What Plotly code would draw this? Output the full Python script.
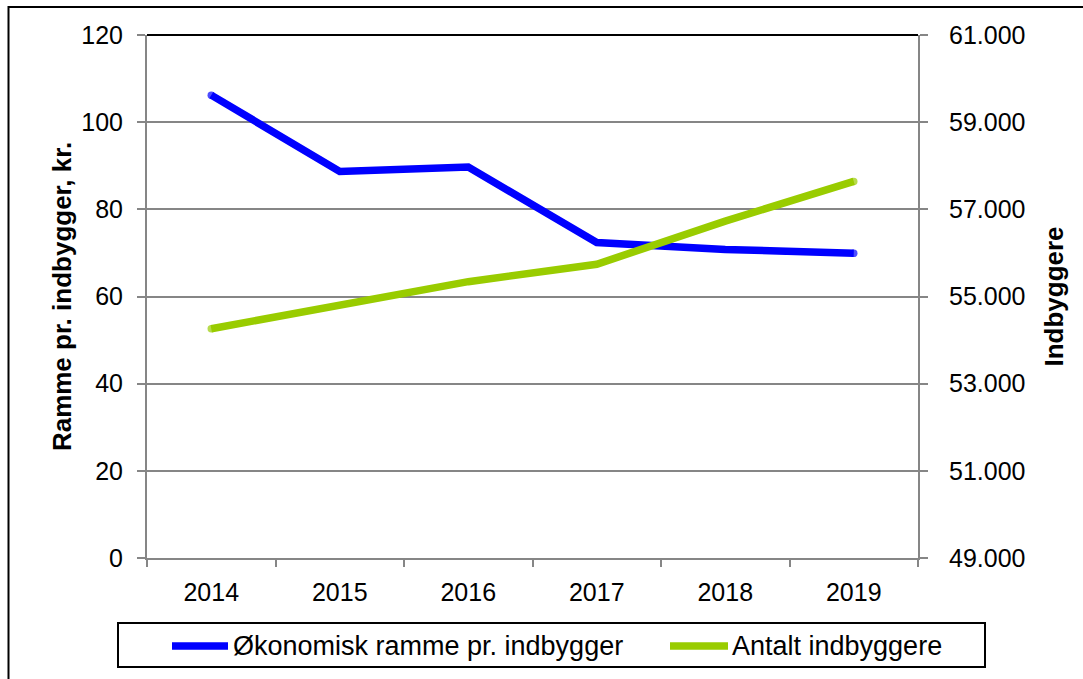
import plotly.graph_objects as go

# Data
years = ["2014", "2015", "2016", "2017", "2018", "2019"]
ramme = [106.2, 88.7, 89.7, 72.4, 70.8, 69.9]
indbyggere = [54260, 54780, 55340, 55740, 56730, 57640]

ramme_name = "Økonomisk ramme pr. indbygger"
indb_name = "Antalt indbyggere"
left_title = "Ramme pr. indbygger, kr."
right_title = "Indbyggere"

left_ticks = [0, 20, 40, 60, 80, 100, 120]
right_ticks = [49000, 51000, 53000, 55000, 57000, 59000, 61000]

# Styling
BLUE = "#0000FF"
GREEN = "#99CC00"
GRID = "#868686"
FONT = "Liberation Sans, Arial, sans-serif"

W, H = 1083, 679
L, R, T, B = 147, 165, 35, 121
PW, PH = W - L - R, H - T - B


def px(xp):
    return (xp - L) / PW


def py(yp):
    return (H - B - yp) / PH


fig = go.Figure()
fig.add_trace(go.Scatter(
    x=years, y=ramme, name=ramme_name, mode="lines+markers",
    line=dict(color=BLUE, width=7.5),
    marker=dict(color=BLUE, size=[7.5, 0, 0, 0, 0, 7.5], line=dict(width=0)),
    yaxis="y", showlegend=False,
))
fig.add_trace(go.Scatter(
    x=years, y=indbyggere, name=indb_name, mode="lines+markers",
    line=dict(color=GREEN, width=7.5),
    marker=dict(color=GREEN, size=[7.5, 0, 0, 0, 0, 7.5], line=dict(width=0)),
    yaxis="y2", showlegend=False,
))

shapes = []
# outer frame
shapes.append(dict(type="rect", xref="paper", yref="paper",
                   x0=px(8.5), x1=px(1100), y0=py(700), y1=py(7),
                   line=dict(color="black", width=2), layer="above"))
# dark top border of the plot area
shapes.append(dict(type="line", xref="paper", yref="paper",
                   x0=0, x1=1, y0=1, y1=1,
                   line=dict(color="black", width=2), layer="above"))

# legend box
shapes.append(dict(type="rect", xref="paper", yref="paper",
                   x0=px(118), x1=px(985), y0=py(667), y1=py(623),
                   line=dict(color="black", width=2), fillcolor="white",
                   layer="above"))
leg_y = py(646)
legend_items = [(ramme_name, BLUE, 172, 228, 231), (indb_name, GREEN, 670, 728, 730)]
annotations = []
for name, col, s0, s1, tx in legend_items:
    shapes.append(dict(type="line", xref="paper", yref="paper",
                       x0=px(s0), x1=px(s1), y0=leg_y, y1=leg_y,
                       line=dict(color=col, width=7.5), layer="above"))
    annotations.append(dict(xref="paper", yref="paper", x=px(tx), y=leg_y,
                            text=name, showarrow=False, xanchor="left",
                            yanchor="middle",
                            font=dict(family=FONT, size=27, color="black")))

fig.update_layout(
    width=W, height=H,
    margin=dict(l=L, r=R, t=T, b=B, autoexpand=False),
    paper_bgcolor="white", plot_bgcolor="white",
    font=dict(family=FONT, size=25, color="black"),
    separators=",.",
    shapes=shapes, annotations=annotations,
    showlegend=False,
    xaxis=dict(
        type="category", range=[-0.5, 5.5], tickson="boundaries",
        showgrid=False, showline=True, linecolor=GRID, linewidth=2,
        ticks="outside", ticklen=7, tickwidth=2, tickcolor=GRID,
        ticklabelstandoff=11, tickfont=dict(size=25),
        zeroline=False,
    ),
    yaxis=dict(
        range=[0, 120], tickvals=left_ticks,
        showgrid=True, gridcolor=GRID, gridwidth=2,
        showline=True, linecolor=GRID, linewidth=2,
        ticks="outside", ticklen=8, tickwidth=2, tickcolor=GRID,
        ticklabelstandoff=9, tickfont=dict(size=25), zeroline=False,
        title=dict(text="<b>" + left_title + "</b>", standoff=2,
                   font=dict(size=26)),
    ),
    yaxis2=dict(
        range=[49000, 61000], tickvals=right_ticks, tickformat=",.0f",
        overlaying="y", side="right",
        showgrid=False, showline=True, linecolor=GRID, linewidth=2,
        ticks="outside", ticklen=8, tickwidth=2, tickcolor=GRID,
        ticklabelstandoff=16, tickfont=dict(size=25), zeroline=False,
        title=dict(text="<b>" + right_title + "</b>", standoff=20,
                   font=dict(size=26)),
    ),
)

fig.write_html("out.html")
